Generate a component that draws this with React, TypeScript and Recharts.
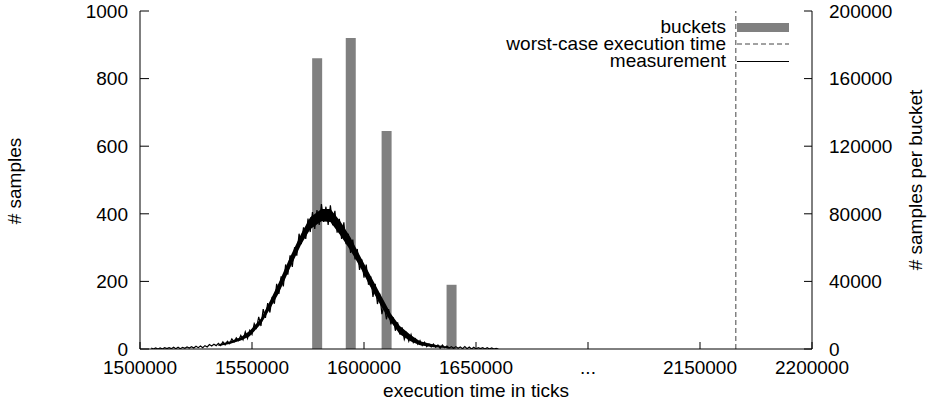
import React from 'react';
import { ComposedChart, Bar, Line, Area, XAxis, YAxis, ReferenceLine } from 'recharts';

// broken x axis: 1500000..1650000, "...", 2150000..2200000
const xTickLabels = ['1500000', '1550000', '1600000', '1650000', '...', '2150000', '2200000'];
const xTickPos = [0, 1, 2, 3, 4, 5, 6];
const leftTicks = [0, 200, 400, 600, 800, 1000];
const rightTicks = [0, 40000, 80000, 120000, 160000, 200000];

const bucketTicks = [1579000, 1594000, 1610000, 1639000];
const bucketCounts = [172000, 184000, 129000, 38000];

const worstCase = 2166000;

// one sample every 1000 ticks from 1505000
const measStart = 1505000;
const measStep = 1000;
const measCounts = [
  3, 0, 3, 0, 3, 0, 4, 1, 4, 1,
  5, 1, 5, 1, 5, 2, 6, 3, 7, 3,
  8, 4, 9, 4, 10, 6, 13, 9, 14, 10,
  17, 10, 21, 12, 23, 16, 30, 21, 33, 25,
  40, 27, 51, 31, 55, 43, 75, 62, 95, 68,
  118, 92, 136, 108, 154, 134, 193, 163, 215, 185,
  250, 220, 277, 243, 301, 276, 341, 310, 360, 326,
  386, 346, 405, 355, 411, 367, 429, 376, 421, 367,
  425, 366, 409, 344, 385, 326, 375, 310, 341, 284,
  324, 265, 296, 234, 265, 211, 250, 190, 215, 154,
  193, 133, 164, 103, 131, 88, 118, 73, 94, 54,
  79, 43, 64, 28, 47, 23, 43, 19, 30, 14,
  25, 10, 20, 7, 15, 6, 15, 5, 12, 2,
  12, 4, 9, 3, 7, 2, 7, 2, 6, 1,
  7, 1, 6, 0, 5, 0, 4, 1, 4, 0,
  4, 0, 3, 0, 2, 0,
];

// spread of the dense measurement cloud (low / high edge of the black band)
const bandTicks = [1535000, 1540000, 1545000, 1549000, 1554000, 1558000, 1562000, 1567000, 1572000, 1576000, 1581000, 1585000,
  1589500, 1594000, 1598500, 1602500, 1607500, 1612000, 1616000, 1621000, 1625000, 1631000, 1638000];
const bandLow = [9, 15, 25, 38, 74, 118, 166, 240, 310, 354, 378, 376, 336, 291, 240, 188, 128, 80, 44, 22, 11, 5, 2];
const bandHigh = [14, 22, 35, 54, 90, 142, 197, 272, 342, 390, 414, 414, 377, 330, 272, 222, 160, 104, 68, 41, 23, 13, 6];

const toPos = (t: number) => (t < 1900000 ? (t - 1500000) / 50000 : 4 + (t - 2100000) / 50000);

const measData = measCounts.map((c, i) => ({ pos: toPos(measStart + i * measStep), count: c }));
const bandData = bandTicks.map((t, i) => ({ pos: toPos(t), range: [bandLow[i], bandHigh[i]] }));
const bucketData = bucketTicks.map((t, i) => ({ pos: toPos(t), value: bucketCounts[i] }));

const FONT = 'Liberation Sans, Arial, sans-serif';
const FS = 19;

const LeftTick = (p: any) => (
  <g>
    <line x1={p.x} y1={p.y} x2={p.x + 9} y2={p.y} stroke="#000" />
    <text x={p.x - 12} y={p.y} dy="0.36em" textAnchor="end" fontSize={FS} fontFamily={FONT} fill="#000">{p.payload.value}</text>
  </g>
);

const RightTick = (p: any) => (
  <g>
    <line x1={p.x} y1={p.y} x2={p.x - 8} y2={p.y} stroke="#000" />
    <text x={p.x + 17} y={p.y} dy="0.36em" textAnchor="start" fontSize={FS} fontFamily={FONT} fill="#000">{p.payload.value}</text>
  </g>
);

const BottomTick = (p: any) => (
  <g>
    <line x1={p.x} y1={p.y} x2={p.x} y2={p.y - 7} stroke="#000" />
    <text x={p.x} y={p.y + 25} textAnchor="middle" fontSize={FS} fontFamily={FONT} fill="#000">{xTickLabels[p.payload.value]}</text>
  </g>
);

const TopTick = (p: any) => (
  <line x1={p.x} y1={p.y} x2={p.x} y2={p.y + 7} stroke="#000" />
);

const layer: React.CSSProperties = { position: 'absolute', left: 0, top: 0 };

export default function App() {
  return (
    <div style={{ position: 'absolute', left: 0, top: 0, width: 934, height: 402, background: '#fff' }}>
      <div style={layer}>
        <ComposedChart width={934} height={402} data={bucketData} margin={{ top: 11, right: 122, bottom: 53, left: 140 }}>
          <XAxis type="number" dataKey="pos" domain={[0, 6]} hide allowDataOverflow />
          <YAxis type="number" domain={[0, 200000]} hide allowDataOverflow />
          <Bar dataKey="value" fill="#808080" barSize={10} isAnimationActive={false} />
        </ComposedChart>
      </div>
      <div style={layer}>
        <ComposedChart width={934} height={402} data={measData} margin={{ top: 11, right: 0, bottom: 0, left: 0 }}>
          <XAxis xAxisId="bottom" type="number" dataKey="pos" domain={[0, 6]} ticks={xTickPos} interval={0}
            height={53} tickLine={false} tickSize={0} tickMargin={0} axisLine={{ stroke: '#000' }} tick={<BottomTick />} allowDataOverflow />
          <XAxis xAxisId="top" orientation="top" type="number" dataKey="pos" domain={[0, 6]} ticks={xTickPos} interval={0}
            height={0} tickLine={false} tickSize={0} tickMargin={0} axisLine={{ stroke: '#000' }} tick={<TopTick />} allowDataOverflow />
          <YAxis yAxisId="left" type="number" domain={[0, 1000]} ticks={leftTicks} interval={0} width={140}
            tickLine={false} tickSize={0} tickMargin={0} axisLine={{ stroke: '#000' }} tick={<LeftTick />} allowDataOverflow />
          <YAxis yAxisId="right" orientation="right" type="number" domain={[0, 200000]} ticks={rightTicks} interval={0} width={122}
            tickLine={false} tickSize={0} tickMargin={0} axisLine={{ stroke: '#000' }} tick={<RightTick />} allowDataOverflow />
          <ReferenceLine xAxisId="bottom" yAxisId="left" x={toPos(worstCase)} stroke="#444" strokeDasharray="5 3" />
          <Area xAxisId="bottom" yAxisId="left" data={bandData} type="linear" dataKey="range" fill="#000" fillOpacity={1}
            stroke="none" dot={false} activeDot={false} isAnimationActive={false} legendType="none" />
          <Line xAxisId="bottom" yAxisId="left" type="linear" dataKey="count" stroke="#000" strokeWidth={1.2}
            dot={false} activeDot={false} isAnimationActive={false} />
        </ComposedChart>
      </div>
      <svg width={934} height={402} style={{ ...layer, pointerEvents: 'none' }} fontFamily={FONT} fontSize={FS}>
        <text x={476} y={397} textAnchor="middle">execution time in ticks</text>
        <text transform="translate(21,181) rotate(-90)" textAnchor="middle"># samples</text>
        <text transform="translate(922,180) rotate(-90)" textAnchor="middle"># samples per bucket</text>
        <text x={726} y={33} textAnchor="end">buckets</text>
        <line x1={737} y1={27.5} x2={789} y2={27.5} stroke="#808080" strokeWidth={9} />
        <text x={726} y={50} textAnchor="end">worst-case execution time</text>
        <line x1={737} y1={44} x2={789} y2={44} stroke="#444" strokeDasharray="5 3" />
        <text x={726} y={67} textAnchor="end">measurement</text>
        <line x1={737} y1={61.5} x2={789} y2={61.5} stroke="#000" />
      </svg>
    </div>
  );
}
